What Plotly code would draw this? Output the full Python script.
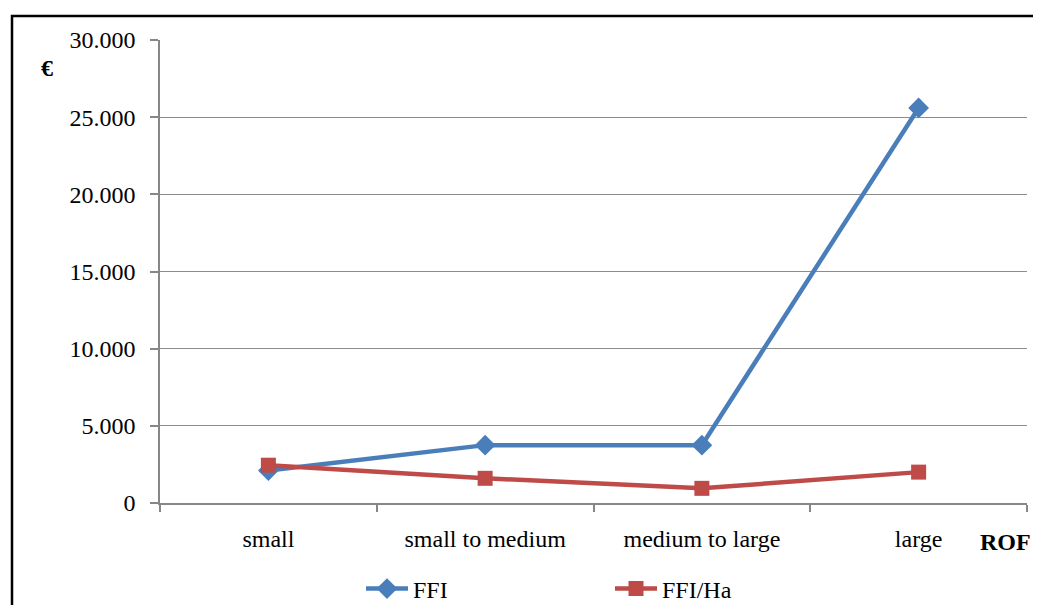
import plotly.graph_objects as go

categories = ["small", "small to medium", "medium to large", "large"]
ffi = [2100, 3750, 3750, 25600]
ffi_ha = [2450, 1600, 950, 2000]
y_ticks = [0, 5000, 10000, 15000, 20000, 25000, 30000]

OFF = 8  # page body margin
W, H = 1041 - 2 * OFF, 613 - 2 * OFF
L, T = 160 - OFF, 40 - OFF
R = W - (1027 - OFF)
B = H - (503 - OFF)
pw, ph = W - L - R, H - T - B

def px(sx):
    return (sx - OFF - L) / pw

def py(sy):
    return (H - B - (sy - OFF)) / ph

font_family = "Liberation Serif, Times New Roman, serif"
blue = "#4A7EBB"
red = "#BE4B48"

fig = go.Figure()
fig.add_trace(go.Scatter(
    x=categories, y=ffi, name="FFI", mode="lines+markers",
    line=dict(color=blue, width=4.5),
    marker=dict(symbol="diamond", size=16, color=blue),
))
fig.add_trace(go.Scatter(
    x=categories, y=ffi_ha, name="FFI/Ha", mode="lines+markers",
    line=dict(color=red, width=4.5),
    marker=dict(symbol="square", size=15, color=red),
))

fig.update_layout(
    width=W, height=H,
    margin=dict(l=L, r=R, t=T, b=B, autoexpand=False),
    paper_bgcolor="white", plot_bgcolor="white",
    separators=",.",
    font=dict(family=font_family, size=24, color="black"),
    showlegend=True,
    legend=dict(
        orientation="h", x=px(361), xanchor="left", y=py(589), yanchor="middle",
        entrywidth=192, entrywidthmode="pixels", itemwidth=42,
        font=dict(size=24), bgcolor="rgba(0,0,0,0)",
    ),
    xaxis=dict(
        type="category", range=[-0.5, 3.5],
        showgrid=False, showline=True, linecolor="#878787", linewidth=1.5,
        ticks="outside", ticklen=7, tickcolor="#878787", tickwidth=1.5,
        tickson="boundaries", ticklabelstandoff=13,
        tickfont=dict(size=24),
    ),
    yaxis=dict(
        range=[0, 30000], tickvals=y_ticks, tickformat=",d",
        showgrid=True, gridcolor="#8C8C8C", gridwidth=1.2,
        showline=True, linecolor="#878787", linewidth=1.5,
        ticks="outside", ticklen=8, tickcolor="#878787", tickwidth=1.5,
        ticklabelstandoff=10,
        tickfont=dict(size=24),
        zeroline=False,
    ),
)

fig.add_annotation(text="<b>€</b>", x=px(47), y=py(68), xref="paper", yref="paper",
                   xanchor="center", yanchor="middle",
                   showarrow=False, font=dict(size=24, family=font_family))
fig.add_annotation(text="<b>ROF</b>", x=px(1005), y=py(542), xref="paper", yref="paper",
                   xanchor="center", yanchor="middle",
                   showarrow=False, font=dict(size=24, family=font_family))

fig.add_shape(type="rect", xref="paper", yref="paper",
              x0=px(12), x1=px(1080), y0=py(660), y1=py(16),
              line=dict(color="black", width=2.5), fillcolor="rgba(0,0,0,0)", layer="below")

fig.write_html("out.html")
